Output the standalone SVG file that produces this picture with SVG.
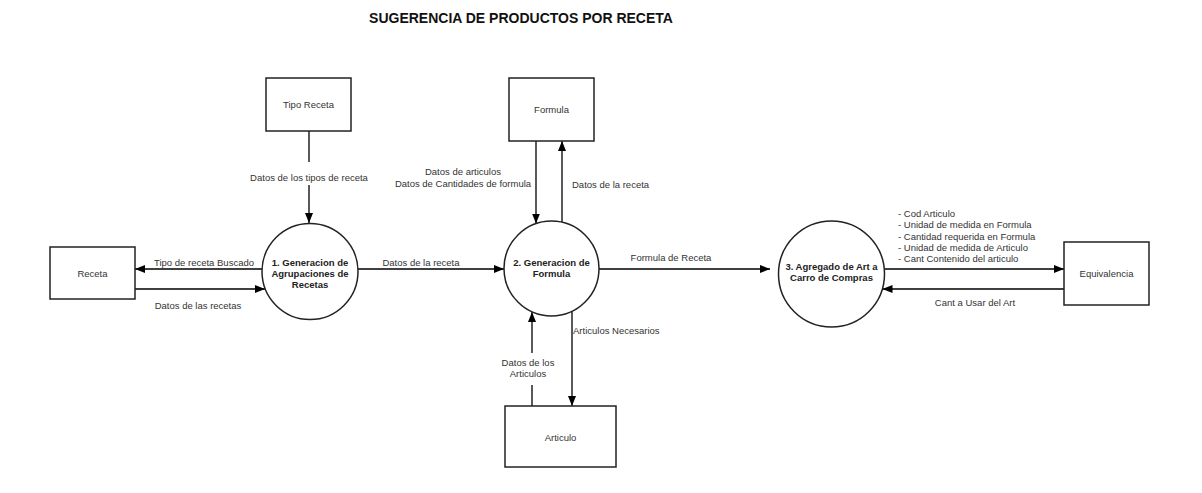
<svg xmlns="http://www.w3.org/2000/svg" width="1202" height="493" viewBox="0 0 1202 493">
<defs>
<marker id="ah" markerUnits="userSpaceOnUse" markerWidth="10" markerHeight="8" refX="10" refY="4" orient="auto">
<path d="M0,0 L10,4 L0,8 z" fill="#000"/>
</marker>
<style>
.box{fill:#fff;stroke:#222;stroke-width:1.5}
.proc{fill:#fff;stroke:#222;stroke-width:1.5}
.t{font-family:"Liberation Sans",Arial,sans-serif;font-size:9.5px;fill:#333}
.c{text-anchor:middle}
.b{font-family:"Liberation Sans",Arial,sans-serif;font-size:9.5px;font-weight:bold;fill:#222;text-anchor:middle}
.ln{stroke:#000;stroke-width:1.3;fill:none}
.ar{stroke:#000;stroke-width:1.3;fill:none;marker-end:url(#ah)}
</style>
</defs>
<rect width="1202" height="493" fill="#fff"/>
<text x="521" y="23" font-family="Liberation Sans, Arial, sans-serif" font-size="14" font-weight="bold" text-anchor="middle" fill="#111">SUGERENCIA DE PRODUCTOS POR RECETA</text>

<g id="connectors">
<line class="ln" x1="309" y1="131" x2="309" y2="162"/>
<line class="ar" x1="309" y1="185" x2="309" y2="223"/>
<line class="ar" x1="262" y1="269" x2="135" y2="269"/>
<line class="ar" x1="135" y1="289" x2="265" y2="289"/>
<line class="ar" x1="358" y1="269" x2="504" y2="269"/>
<line class="ar" x1="536" y1="141" x2="536" y2="223.5"/>
<line class="ar" x1="562" y1="222" x2="562" y2="141"/>
<line class="ar" x1="599" y1="269" x2="770" y2="269"/>
<line class="ar" x1="884" y1="269" x2="1064" y2="269"/>
<line class="ar" x1="1064" y1="289" x2="882.5" y2="289"/>
<line class="ln" x1="532" y1="406" x2="532" y2="385"/>
<line class="ar" x1="532" y1="353" x2="532" y2="312"/>
<line class="ar" x1="572" y1="311" x2="572" y2="406"/>
<text class="t c" x="309" y="181">Datos de los tipos de receta</text>
<text class="t c" x="204" y="265.5">Tipo de receta Buscado</text>
<text class="t c" x="198" y="308.5">Datos de las recetas</text>
<text class="t c" x="421" y="265.5">Datos de la receta</text>
<text class="t c" x="463" y="174.5">Datos de articulos</text>
<text class="t c" x="463" y="186.5">Datos de Cantidades de formula</text>
<text class="t" x="572" y="187.5">Datos de la receta</text>
<text class="t c" x="671" y="260.5">Formula de Receta</text>
<text class="t" x="898" y="216.5">- Cod Articulo</text>
<text class="t" x="898" y="228">- Unidad de medida en Formula</text>
<text class="t" x="898" y="239.5">- Cantidad requerida en Formula</text>
<text class="t" x="898" y="250.5">- Unidad de medida de Articulo</text>
<text class="t" x="898" y="262">- Cant Contenido del articulo</text>
<text class="t c" x="975" y="305.5">Cant a Usar del Art</text>
<text class="t c" x="528" y="365.5">Datos de los</text>
<text class="t c" x="528" y="376.5">Articulos</text>
<text class="t" x="573" y="333.5">Articulos Necesarios</text>
</g>

<g id="tipo-receta">
<rect class="box" x="266" y="78" width="85" height="53"/>
<text class="t c" x="308.5" y="107.5">Tipo Receta</text>
</g>
<g id="receta">
<rect class="box" x="50" y="247" width="85" height="52"/>
<text class="t c" x="92.5" y="276.5">Receta</text>
</g>
<g id="formula">
<rect class="box" x="509" y="78" width="85" height="63"/>
<text class="t c" x="551.5" y="112.5">Formula</text>
</g>
<g id="articulo">
<rect class="box" x="505" y="406" width="111" height="61"/>
<text class="t c" x="560.5" y="440.5">Articulo</text>
</g>
<g id="equivalencia">
<rect class="box" x="1064" y="242" width="85" height="63"/>
<text class="t c" x="1106.5" y="276.5">Equivalencia</text>
</g>
<g id="proc1">
<circle class="proc" cx="310" cy="271.5" r="48"/>
<text class="b" x="310" y="265.5">1. Generacion de</text>
<text class="b" x="310" y="276.5">Agrupaciones de</text>
<text class="b" x="310" y="287.5">Recetas</text>
</g>
<g id="proc2">
<circle class="proc" cx="551.5" cy="268.5" r="47.5"/>
<text class="b" x="551.5" y="265.5">2. Generacion de</text>
<text class="b" x="551.5" y="276.5">Formula</text>
</g>
<g id="proc3">
<circle class="proc" cx="831.5" cy="274" r="53"/>
<text class="b" x="831.5" y="269.5">3. Agregado de Art a</text>
<text class="b" x="831.5" y="280.5">Carro de Compras</text>
</g>
</svg>
